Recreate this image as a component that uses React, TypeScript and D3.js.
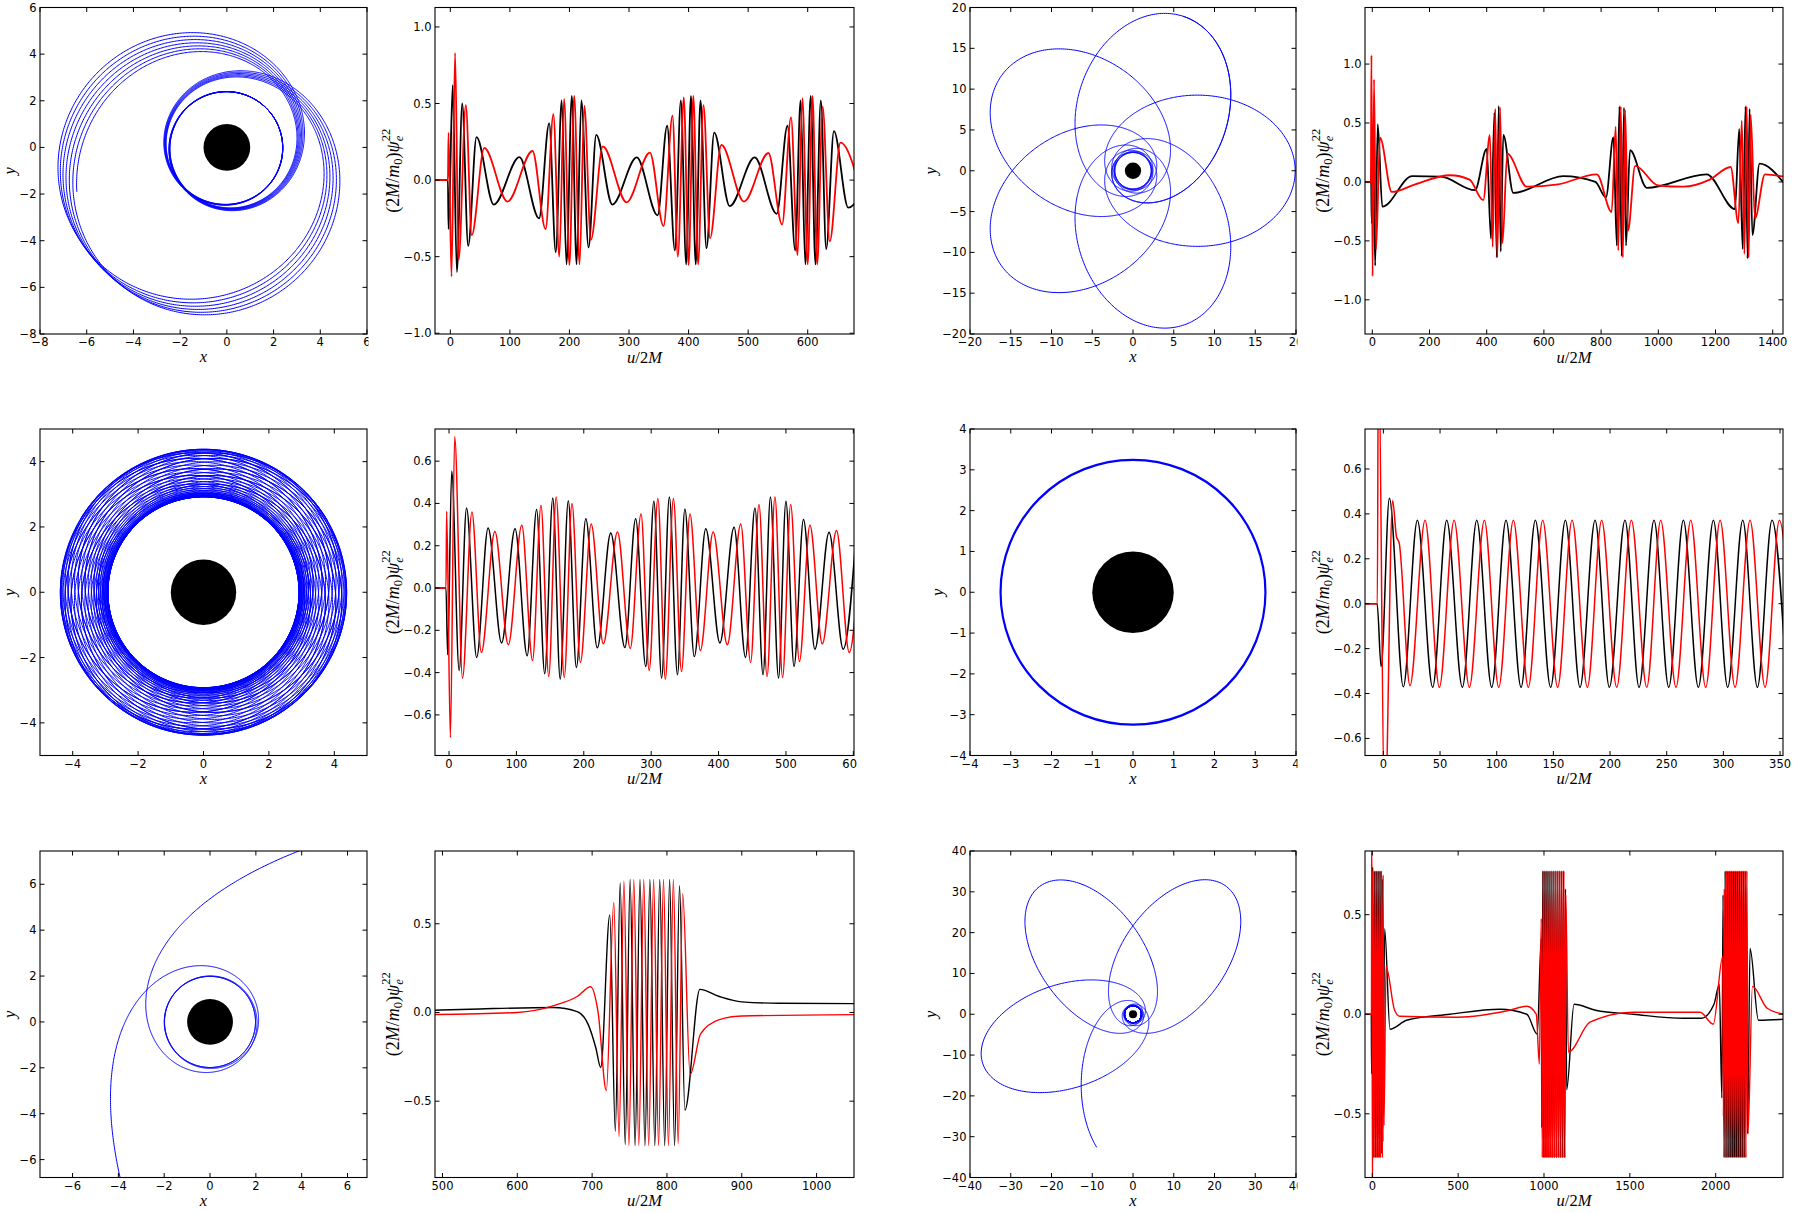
import React, { useMemo } from "react";
import * as d3 from "d3";

type Pt = [number, number];

/* ---------- ψ_e^22 waveforms: successive extrema as (u/2M, value) ---------- */

// row 1 — zoom-whirl orbit
const waveA_re: Pt[] = [[-27,0],[-4,0],[-3,-0.32],[4,0.62],[11,-0.6],[20,0.5],[30,-0.43],[44,0.28],[73,-0.16],[116,0.15],[149,-0.25],[166,0.37],[177,-0.47],[187,0.52],[195,-0.55],[204,0.55],[212,-0.55],[220,0.52],[232,-0.44],[245,0.295],[272,-0.16],[313,0.148],[348,-0.23],[364,0.355],[377,-0.46],[387,0.52],[396,-0.55],[404,0.55],[412,-0.55],[420,0.52],[430,-0.445],[443,0.31],[469,-0.17],[511,0.148],[548,-0.22],[566,0.355],[579,-0.46],[588,0.52],[596,-0.55],[605,0.55],[613,-0.55],[622,0.52],[631,-0.45],[644,0.32],[668,-0.18],[712,0.15]];
const waveA_im: Pt[] = [[-27,0],[-4,0],[-3,0.31],[2,-0.63],[8,0.83],[14,-0.52],[26,0.49],[36,-0.36],[57,0.21],[96,-0.14],[138,0.19],[160,-0.32],[173,0.43],[183,-0.5],[191,0.53],[200,-0.555],[208,0.55],[217,-0.55],[225,0.485],[236,-0.39],[256,0.22],[296,-0.145],[335,0.18],[358,-0.3],[373,0.42],[382,-0.5],[392,0.54],[400,-0.555],[408,0.55],[416,-0.55],[425,0.49],[436,-0.38],[455,0.23],[493,-0.14],[534,0.177],[557,-0.29],[572,0.41],[583,-0.49],[591,0.535],[600,-0.55],[608,0.55],[616,-0.55],[625,0.48],[637,-0.4],[655,0.245],[693,-0.14]];

// row 1 — five-petal rosette
const waveB_re: Pt[] = [[-27,0],[-4,0],[-2,-0.35],[3,0.35],[10,-0.71],[19,0.49],[35,-0.21],[140,0.05],[240,0.045],[359,-0.07],[400,0.28],[415,-0.48],[427,0.59],[435,-0.64],[442,0.645],[449,-0.59],[458,0.4],[493,-0.093],[668,0.05],[780,0.0],[817,-0.13],[843,0.38],[855,-0.54],[864,0.64],[872,-0.63],[880,0.63],[887,-0.54],[901,0.27],[960,-0.05],[1169,0.065],[1268,-0.23],[1283,0.45],[1295,-0.57],[1305,0.64],[1312,-0.65],[1319,0.62],[1329,-0.45],[1354,0.155],[1440,-0.01]];
const waveB_im: Pt[] = [[-27,0],[-5,0],[-3,1.075],[1,-0.8],[6,0.87],[13,-0.57],[27,0.376],[68,-0.085],[150,-0.02],[272,0.057],[340,0.02],[388,-0.155],[411,0.4],[421,-0.55],[430,0.62],[437,-0.64],[447,0.63],[455,-0.52],[472,0.24],[540,-0.04],[650,-0.02],[785,0.065],[837,-0.255],[851,0.47],[860,-0.58],[869,0.64],[876,-0.64],[884,0.61],[894,-0.415],[919,0.136],[1000,-0.03],[1088,-0.04],[1180,0.02],[1253,0.127],[1280,-0.35],[1292,0.52],[1301,-0.61],[1309,0.64],[1316,-0.64],[1323,0.57],[1338,-0.31],[1373,0.065],[1440,0.045]];

// row 2 — precessing mildly eccentric orbit
const waveC_re: Pt[] = [[-22,0],[-4.5,0],[-2,-0.316],[4,0.553],[15,-0.39],[26,0.379],[41,-0.328],[58,0.284],[78,-0.26],[98,0.28],[116,-0.32],[130,0.371],[142,-0.405],[154,0.426],[165,-0.43],[177,0.413],[189,-0.376],[203,0.328],[220,-0.283],[240,0.26],[261,-0.281],[277,0.327],[292,-0.371],[304,0.41],[315.5,-0.426],[327,0.43],[339,-0.41],[350,0.374],[364,-0.324],[381,0.28],[402,-0.26],[423,0.287],[440,-0.328],[454,0.379],[466,-0.41],[477,0.43],[489,-0.426],[500,0.41],[512,-0.371],[526,0.324],[543,-0.289],[564,0.264],[585,-0.289],[606,0.34]];
const waveC_im: Pt[] = [[-22,0],[-4.5,0],[-3.5,0.363],[2,-0.707],[8.4,0.715],[20,-0.426],[34,0.36],[48,-0.305],[68,0.267],[88,-0.268],[108,0.297],[124,-0.343],[136.5,0.39],[148,-0.418],[159,0.431],[171,-0.423],[182.5,0.4],[195,-0.352],[211,0.303],[229,-0.264],[250,0.265],[269,-0.286],[285,0.35],[297,-0.39],[310,0.423],[321,-0.431],[333,0.423],[345,-0.395],[357.6,0.35],[373,-0.295],[392,0.265],[413,-0.268],[433,0.303],[447.6,-0.352],[460,0.395],[472,-0.418],[483.7,0.431],[495,-0.423],[507,0.395],[520,-0.347],[535.6,0.297],[554,-0.264],[575,0.272],[594,-0.305],[612,0.3]];

// row 2 — circular orbit
const waveD_re: Pt[] = [[-17,0],[-5.5,0],[-2,-0.28],[5.3,0.47],[17.6,-0.37],[30,0.372],[43.5,-0.372],[55.9,0.372],[69.7,-0.372],[82.4,0.372],[95.6,-0.372],[108.2,0.372],[121.5,-0.372],[134.1,0.372],[147.6,-0.372],[160.6,0.372],[173.5,-0.372],[186.8,0.372],[199.4,-0.372],[213.2,0.372],[225.6,-0.372],[238.8,0.372],[251.8,-0.372],[264.7,0.372],[277.9,-0.372],[291.2,0.372],[303.8,-0.372],[317.1,0.372],[330,-0.372],[342.9,0.372],[356,-0.372]];
const waveD_im: Pt[] = [[-17,0],[-5.3,0],[-4.4,1.2],[1.2,-1.0],[8.2,0.46],[11.5,0.3],[14,0.27],[23.5,-0.365],[36.8,0.372],[49.4,-0.372],[62.4,0.372],[75.9,-0.372],[89.1,0.372],[101.8,-0.372],[114.7,0.372],[127.9,-0.372],[140.6,0.372],[153.8,-0.372],[166.5,0.372],[180,-0.372],[192.6,0.372],[205.9,-0.372],[218.8,0.372],[232.4,-0.372],[244.7,0.372],[258.2,-0.372],[271.2,0.372],[284.4,-0.372],[297.1,0.372],[310.3,-0.372],[323.5,0.372],[336.8,-0.372],[349.4,0.372],[362.5,-0.372]];

// row 3 — scattering zoom-whirl
const waveE_re: Pt[] = [[485,0.012],[550,0.02],[648,0.028],[680,0.005],[695,-0.07],[705,-0.2],[711.5,-0.31],[723.6,0.55],[731,-0.67],[737.5,0.73],[744.2,-0.745],[750.8,0.75],[757.4,-0.752],[764,0.75],[770.6,-0.752],[777.2,0.75],[783.8,-0.752],[790.4,0.75],[797,-0.752],[803.6,0.75],[810.2,-0.752],[816.8,0.714],[824,-0.55],[844,0.13],[870,0.09],[900,0.06],[950,0.052],[1055,0.05]];
const waveE_im: Pt[] = [[485,-0.012],[600,0.0],[650,0.04],[680,0.09],[698,0.145],[708,0.0],[719,-0.44],[729,0.62],[736,-0.7],[742.5,0.74],[749.2,-0.75],[755.7,0.75],[762.4,-0.75],[769,0.75],[775.6,-0.75],[782.2,0.75],[788.8,-0.75],[795.4,0.75],[802,-0.75],[808.6,0.75],[815,-0.74],[821,0.67],[831,-0.35],[845,-0.12],[870,-0.04],[900,-0.02],[1055,-0.012]];

// row 3 — three-petal orbit with long whirls
const waveF_re: Pt[] = [[-45,0],[-6,0],[-4,-0.3],[2,0.74],[8,-0.72],[14,0.72],[20,-0.72],[26,0.72],[32,-0.72],[38,0.72],[44,-0.72],[50,0.72],[55,-0.7],[58,0.68],[61,-0.64],[72,0.43],[103,-0.075],[200,-0.03],[452,0.0],[744,0.025],[900,0.0],[961,-0.1],[984,0.38],[987,-0.57],[993,0.72],[999,-0.72],[1005,0.72],[1011,-0.72],[1017,0.72],[1023,-0.72],[1029,0.72],[1035,-0.72],[1041,0.72],[1047,-0.72],[1053,0.72],[1059,-0.72],[1065,0.72],[1071,-0.72],[1077,0.72],[1083,-0.72],[1089,0.72],[1095,-0.72],[1101,0.72],[1107,-0.72],[1113,0.72],[1119,-0.72],[1125,0.63],[1132,-0.38],[1175,0.05],[1300,0.02],[1520,0.0],[1812,-0.02],[1918,-0.02],[1990,0.05],[2021,0.15],[2036,-0.42],[2043,0.6],[2049,-0.72],[2055,0.72],[2061,-0.72],[2067,0.72],[2073,-0.72],[2079,0.72],[2085,-0.72],[2091,0.72],[2097,-0.72],[2103,0.72],[2109,-0.72],[2115,0.72],[2121,-0.72],[2127,0.72],[2133,-0.72],[2139,0.72],[2145,-0.72],[2151,0.72],[2157,-0.72],[2163,0.72],[2169,-0.72],[2175,0.72],[2186,-0.6],[2200,0.33],[2249,-0.03],[2400,-0.025]];
const waveF_im: Pt[] = [[-45,0],[-5,0],[-3,1.0],[1,-1.0],[5,0.72],[11,-0.72],[17,0.72],[23,-0.72],[29,0.72],[35,-0.72],[41,0.72],[47,-0.72],[53,0.72],[59,-0.72],[63,0.7],[68,-0.56],[80,0.24],[130,0.02],[160,-0.01],[500,-0.015],[800,0.02],[900,0.04],[955,0.0],[973,-0.25],[984,0.48],[990,-0.72],[996,0.72],[1002,-0.72],[1008,0.72],[1014,-0.72],[1020,0.72],[1026,-0.72],[1032,0.72],[1038,-0.72],[1044,0.72],[1050,-0.72],[1056,0.72],[1062,-0.72],[1068,0.72],[1074,-0.72],[1080,0.72],[1086,-0.72],[1092,0.72],[1098,-0.72],[1104,0.72],[1110,-0.72],[1116,0.72],[1122,-0.72],[1127,0.6],[1142,-0.19],[1268,-0.04],[1520,0.01],[1909,0.01],[1986,-0.05],[2041,0.29],[2045,-0.51],[2050,0.63],[2056,-0.72],[2062,0.72],[2068,-0.72],[2074,0.72],[2080,-0.72],[2086,0.72],[2092,-0.72],[2098,0.72],[2104,-0.72],[2110,0.72],[2116,-0.72],[2122,0.72],[2128,-0.72],[2134,0.72],[2140,-0.72],[2146,0.72],[2152,-0.72],[2158,0.72],[2164,-0.72],[2170,0.72],[2176,-0.72],[2182,0.72],[2188,-0.6],[2214,0.14],[2300,0.03],[2400,0.0]];

/* ---------- orbit parameters (lengths in units of 2M, horizon at r = 1) ---------- */
// bound geodesics: apoapsis, revolutions per radial period (or periapsis), sense (+1 ccw / −1 cw),
// start radius, start angle (deg), inbound at start, radial periods drawn
const orbitZoomWhirl = { ra: 7.45, revs: 3.0167, rp: 0, dir: -1, r0: 6.7, th0: -163.5, inbound: true, periods: 6.5 };
const orbitRosette = { ra: 19.9, revs: 2.4, rp: 0, dir: -1, r0: 19.9, th0: 72, inbound: true, periods: 5.4 };
const orbitAnnulus = { ra: 4.38, revs: 0, rp: 2.92, dir: 1, r0: 4.38, th0: 30, inbound: true, periods: 24 };
const orbitCircleRadius = 3.25;
// unbound geodesic: u1 root, reference radius, revolutions swept between reference radii, periapsis angle, sense
const orbitScatter = { u1: -0.008, rEdge: 8, revs: 4.489, thPeri: 153, dir: -1, rMax: 12 };
const orbitThreePetal = { ra: 38.8, revs: 6.2, rp: 0, dir: -1, r0: 33.8, th0: 254.7, inbound: true, periods: 3.5 };
const horizonRadius = 1;

/* ---------- tick values ---------- */
const ticksOrbitA = [-8, -6, -4, -2, 0, 2, 4, 6];
const ticksOrbitB = [-20, -15, -10, -5, 0, 5, 10, 15, 20];
const ticksOrbitC = [-4, -2, 0, 2, 4];
const ticksOrbitD = [-4, -3, -2, -1, 0, 1, 2, 3, 4];
const ticksOrbitE = [-6, -4, -2, 0, 2, 4, 6];
const ticksOrbitF = [-40, -30, -20, -10, 0, 10, 20, 30, 40];
const ticksUA = [0, 100, 200, 300, 400, 500, 600];
const ticksUB = [0, 200, 400, 600, 800, 1000, 1200, 1400];
const ticksUC = [0, 100, 200, 300, 400, 500, 600];
const ticksUD = [0, 50, 100, 150, 200, 250, 300, 350];
const ticksUE = [500, 600, 700, 800, 900, 1000];
const ticksUF = [0, 500, 1000, 1500, 2000];
const ticksPsiWide = [-1, -0.5, 0, 0.5, 1];
const ticksPsiFine = [-0.6, -0.4, -0.2, 0, 0.2, 0.4, 0.6];
const ticksPsiHalf = [-0.5, 0, 0.5];

/* ---------- geodesic integration: (du/dφ)² = (u−u1)(u2−u)(u3−u), u1+u2+u3 = 1 ---------- */
const TAU = Math.PI * 2;
const uAt = (u1: number, u2: number, chi: number) => u1 + (u2 - u1) * (1 - Math.cos(chi)) / 2;
const rate = (u1: number, u2: number, chi: number) => {
  const u3 = 1 - u1 - u2;
  return 1 / Math.sqrt(Math.max(u3 - uAt(u1, u2, chi), 1e-14));
};
function sweep(u1: number, u2: number, a: number, b: number, n = 8000) {
  const h = (b - a) / n;
  let s = 0;
  for (let i = 0; i < n; i++) s += rate(u1, u2, a + (i + 0.5) * h);
  return s * h;
}
function chiAtRadius(u1: number, u2: number, r: number) {
  const c = 1 - (2 * (1 / r - u1)) / (u2 - u1);
  return Math.acos(Math.max(-1, Math.min(1, c)));
}
function bisect(f: (v: number) => number, target: number, lo: number, hi: number) {
  for (let i = 0; i < 60; i++) {
    const m = (lo + hi) / 2;
    if (f(m) < target) lo = m;
    else hi = m;
  }
  return (lo + hi) / 2;
}
function march(u1: number, u2: number, chiA: number, chiB: number, phiA: number, thBase: number, dir: number): Pt[] {
  const pts: Pt[] = [];
  let chi = chiA;
  let phi = phiA;
  for (;;) {
    const r = 1 / uAt(u1, u2, chi);
    const th = thBase + dir * phi;
    pts.push([r * Math.cos(th), r * Math.sin(th)]);
    if (chi >= chiB) break;
    let h = Math.min(0.01, 0.012 / rate(u1, u2, chi));
    if (chi + h > chiB) h = chiB - chi;
    phi += h * rate(u1, u2, chi + h / 2);
    chi += h;
  }
  return pts;
}
type Bound = typeof orbitZoomWhirl;
function boundOrbit(o: Bound): Pt[] {
  const u1 = 1 / o.ra;
  const u2 = o.rp
    ? 1 / o.rp
    : bisect((v) => 2 * sweep(u1, v, 0, Math.PI), o.revs * TAU, u1 + 1e-4, (1 - u1) / 2 - 1e-13);
  const chi0 = (o.inbound ? 1 : -1) * chiAtRadius(u1, u2, o.r0);
  const phi0 = chi0 === 0 ? 0 : sweep(u1, u2, 0, chi0, 4000);
  const thBase = (o.th0 * Math.PI) / 180 - o.dir * phi0;
  return march(u1, u2, chi0, o.periods * TAU, phi0, thBase, o.dir);
}
function scatterOrbit(o: typeof orbitScatter): Pt[] {
  const u1 = o.u1;
  const f = (v: number) => 2 * sweep(u1, v, chiAtRadius(u1, v, o.rEdge), Math.PI);
  const u2 = bisect(f, o.revs * TAU, 1 / o.rEdge + 1e-3, (1 - u1) / 2 - 1e-13);
  const chiA = chiAtRadius(u1, u2, o.rMax);
  const phiA = -sweep(u1, u2, chiA, Math.PI);
  return march(u1, u2, chiA, TAU - chiA, phiA, (o.thPeri * Math.PI) / 180, o.dir);
}

/* ---------- layout ---------- */
const COL_X = [40, 435, 970, 1365];
const COL_W = [327, 419, 326, 418];
const COL_CLIP = [368.5, 857, 1297.5, 1801];
const ROW_Y = [7.5, 429, 851];
const ROW_H = 326.5;

const minus = (s: string) => s.replace("-", "\u2212");
const fmtInt = (v: number) => minus(String(v));
const fmt1 = (v: number) => minus(Math.abs(v) < 1e-9 ? "0.0" : v.toFixed(1));

type Scale = d3.ScaleLinear<number, number>;

interface AxesProps {
  id: string;
  col: number;
  row: number;
  xd: [number, number];
  yd: [number, number];
  xt: number[];
  yt: number[];
  fmtY: (v: number) => string;
  wave: boolean;
  yLabOff: number;
  draw: (xs: Scale, ys: Scale) => React.ReactNode;
}

const TICK_FONT = "'DejaVu Sans', sans-serif";
const MATH_FONT = "'Liberation Serif', 'DejaVu Serif', serif";

function Axes(p: AxesProps) {
  const x0 = COL_X[p.col];
  const w = COL_W[p.col];
  const y0 = ROW_Y[p.row];
  const h = ROW_H;
  const xs = d3.scaleLinear().domain(p.xd).range([x0, x0 + w]);
  const ys = d3.scaleLinear().domain(p.yd).range([y0 + h, y0]);
  const tl = 4.5;
  return (
    <g clipPath={`url(#outer-${p.id})`}>
      <defs>
        <clipPath id={`outer-${p.id}`}>
          <rect x={x0 - 120} y={y0 - 10} width={COL_CLIP[p.col] - (x0 - 120)} height={h + 60} />
        </clipPath>
        <clipPath id={`plot-${p.id}`}>
          <rect x={x0} y={y0} width={w} height={h} />
        </clipPath>
      </defs>
      <g clipPath={`url(#plot-${p.id})`}>{p.draw(xs, ys)}</g>
      <rect x={x0} y={y0} width={w} height={h} fill="none" stroke="#000" strokeWidth={1.1} />
      {p.xt.map((v) => (
        <g key={`x${v}`}>
          <line x1={xs(v)} x2={xs(v)} y1={y0 + h} y2={y0 + h - tl} stroke="#000" />
          <line x1={xs(v)} x2={xs(v)} y1={y0} y2={y0 + tl} stroke="#000" />
          <text x={xs(v)} y={y0 + h + 12} textAnchor="middle" fontFamily={TICK_FONT} fontSize={11.5}>
            {fmtInt(v)}
          </text>
        </g>
      ))}
      {p.yt.map((v) => (
        <g key={`y${v}`}>
          <line x1={x0} x2={x0 + tl} y1={ys(v)} y2={ys(v)} stroke="#000" />
          <line x1={x0 + w} x2={x0 + w - tl} y1={ys(v)} y2={ys(v)} stroke="#000" />
          <text x={x0 - 3.5} y={ys(v) + 4} textAnchor="end" fontFamily={TICK_FONT} fontSize={11.5}>
            {p.fmtY(v)}
          </text>
        </g>
      ))}
      {p.wave ? (
        <text x={x0 + w / 2} y={y0 + h + 28.5} textAnchor="middle" fontFamily={MATH_FONT} fontSize={16.5}>
          <tspan fontStyle="italic">u</tspan>
          <tspan>/2</tspan>
          <tspan fontStyle="italic">M</tspan>
        </text>
      ) : (
        <text x={x0 + w / 2} y={y0 + h + 28} textAnchor="middle" fontFamily={MATH_FONT} fontSize={16.5} fontStyle="italic">
          x
        </text>
      )}
      {p.wave ? (
        <text
          transform={`translate(${x0 - p.yLabOff},${y0 + h / 2}) rotate(-90)`}
          textAnchor="middle"
          fontFamily={MATH_FONT}
          fontSize={18}
        >
          <tspan>(2</tspan>
          <tspan fontStyle="italic">M</tspan>
          <tspan>/</tspan>
          <tspan fontStyle="italic">m</tspan>
          <tspan fontSize={12.5} dy={3}>0</tspan>
          <tspan dy={-3}>)</tspan>
          <tspan fontStyle="italic">ψ</tspan>
          <tspan fontStyle="italic" fontSize={12.5} dy={4}>e</tspan>
          <tspan fontSize={12.5} dx={-5.5} dy={-13}>22</tspan>
        </text>
      ) : (
        <text
          transform={`translate(${x0 - p.yLabOff},${y0 + h / 2}) rotate(-90)`}
          textAnchor="middle"
          fontFamily={MATH_FONT}
          fontSize={16.5}
          fontStyle="italic"
        >
          y
        </text>
      )}
    </g>
  );
}

function orbitDraw(paths: Pt[][], width = 1) {
  return (xs: Scale, ys: Scale) => {
    const line = d3.line<Pt>().x((d) => xs(d[0])).y((d) => ys(d[1]));
    return (
      <g>
        {paths.map((pts, i) => (
          <path key={i} d={line(pts) ?? ""} fill="none" stroke="#0000ff" strokeWidth={width} strokeLinejoin="round" />
        ))}
        <circle cx={xs(0)} cy={ys(0)} r={xs(horizonRadius) - xs(0)} fill="#000" />
      </g>
    );
  };
}

function waveDraw(re: Pt[], im: Pt[], width: number) {
  return (xs: Scale, ys: Scale) => {
    const line = d3
      .line<Pt>()
      .x((d) => xs(d[0]))
      .y((d) => ys(d[1]))
      .curve(d3.curveMonotoneX);
    return (
      <g>
        <path d={line(re) ?? ""} fill="none" stroke="#000" strokeWidth={width} />
        <path d={line(im) ?? ""} fill="none" stroke="#ff0000" strokeWidth={width} />
      </g>
    );
  };
}

export default function App() {
  const orbits = useMemo(
    () => ({
      a: boundOrbit(orbitZoomWhirl),
      b: boundOrbit(orbitRosette),
      c: boundOrbit(orbitAnnulus),
      e: scatterOrbit(orbitScatter),
      f: boundOrbit(orbitThreePetal),
    }),
    []
  );

  const circleDraw = (xs: Scale, ys: Scale) => (
    <g>
      <circle cx={xs(0)} cy={ys(0)} r={xs(orbitCircleRadius) - xs(0)} fill="none" stroke="#0000ff" strokeWidth={2.2} />
      <circle cx={xs(0)} cy={ys(0)} r={xs(horizonRadius) - xs(0)} fill="#000" />
    </g>
  );

  return (
    <svg
      width={1801}
      height={1213}
      viewBox="0 0 1801 1213"
      style={{ position: "absolute", left: 0, top: 0, display: "block" }}
      xmlns="http://www.w3.org/2000/svg"
    >
      <rect x={0} y={0} width={1801} height={1213} fill="#fff" />
      {/* row 1 */}
      <Axes id="p1" col={0} row={0} xd={[-8, 6]} yd={[-8, 6]} xt={ticksOrbitA} yt={ticksOrbitA} fmtY={fmtInt} wave={false} yLabOff={25} draw={orbitDraw([orbits.a], 1)} />
      <Axes id="p2" col={1} row={0} xd={[-25.7, 677.7]} yd={[-1.005, 1.127]} xt={ticksUA} yt={ticksPsiWide} fmtY={fmt1} wave yLabOff={36} draw={waveDraw(waveA_re, waveA_im, 1.8)} />
      <Axes id="p3" col={2} row={0} xd={[-20, 20]} yd={[-20, 20]} xt={ticksOrbitB} yt={ticksOrbitB} fmtY={fmtInt} wave={false} yLabOff={34} draw={orbitDraw([orbits.b], 1)} />
      <Axes id="p4" col={3} row={0} xd={[-25.5, 1436]} yd={[-1.29, 1.48]} xt={ticksUB} yt={ticksPsiWide} fmtY={fmt1} wave yLabOff={36} draw={waveDraw(waveB_re, waveB_im, 1.8)} />
      {/* row 2 */}
      <Axes id="p5" col={0} row={1} xd={[-5, 5]} yd={[-5, 5]} xt={ticksOrbitC} yt={ticksOrbitC} fmtY={fmtInt} wave={false} yLabOff={25} draw={orbitDraw([orbits.c], 1)} />
      <Axes id="p6" col={1} row={1} xd={[-20.8, 601]} yd={[-0.792, 0.752]} xt={ticksUC} yt={ticksPsiFine} fmtY={fmt1} wave yLabOff={36} draw={waveDraw(waveC_re, waveC_im, 1.5)} />
      <Axes id="p7" col={2} row={1} xd={[-4, 4]} yd={[-4, 4]} xt={ticksOrbitD} yt={ticksOrbitD} fmtY={fmtInt} wave={false} yLabOff={27} draw={circleDraw} />
      <Axes id="p8" col={3} row={1} xd={[-16.2, 352.6]} yd={[-0.676, 0.778]} xt={ticksUD} yt={ticksPsiFine} fmtY={fmt1} wave yLabOff={36} draw={waveDraw(waveD_re, waveD_im, 1.5)} />
      {/* row 3 */}
      <Axes id="p9" col={0} row={2} xd={[-7.42, 6.85]} yd={[-6.78, 7.45]} xt={ticksOrbitE} yt={ticksOrbitE} fmtY={fmtInt} wave={false} yLabOff={25} draw={orbitDraw([orbits.e], 1)} />
      <Axes id="p10" col={1} row={2} xd={[490, 1050]} yd={[-0.93, 0.91]} xt={ticksUE} yt={ticksPsiHalf} fmtY={fmt1} wave yLabOff={36} draw={waveDraw(waveE_re, waveE_im, 1.4)} />
      <Axes id="p11" col={2} row={2} xd={[-40, 40]} yd={[-40, 40]} xt={ticksOrbitF} yt={ticksOrbitF} fmtY={fmtInt} wave={false} yLabOff={34} draw={orbitDraw([orbits.f], 1)} />
      <Axes id="p12" col={3} row={2} xd={[-42.5, 2392]} yd={[-0.82, 0.82]} xt={ticksUF} yt={ticksPsiHalf} fmtY={fmt1} wave yLabOff={36} draw={waveDraw(waveF_re, waveF_im, 1.4)} />
    </svg>
  );
}
